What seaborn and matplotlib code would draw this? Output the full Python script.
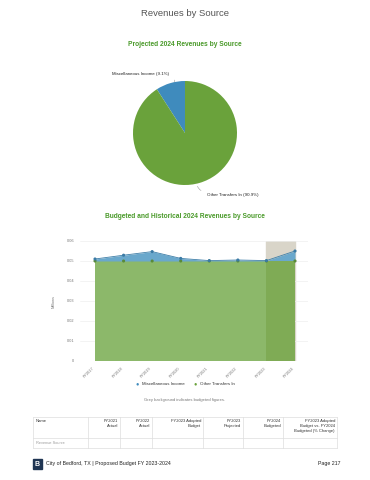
import numpy as np
import pandas as pd
import matplotlib
matplotlib.use("Agg")
import matplotlib.pyplot as plt
import seaborn as sns

sns.set_style("white")
plt.rcParams["font.family"] = ["Liberation Sans", "DejaVu Sans"]

# data
pie_labels = ["Miscellaneous Income", "Other Transfers In"]
pie_pct = [9.1, 90.9]

years = ["FY2017", "FY2018", "FY2019", "FY2020", "FY2021", "FY2022", "FY2023", "FY2024"]
misc_income = [0.0010, 0.0029, 0.0047, 0.0013, 0.0002, 0.0005, 0.0002, 0.0050]
other_transfers = [0.050, 0.050, 0.050, 0.050, 0.050, 0.050, 0.050, 0.050]
y_ticks = [0, 0.01, 0.02, 0.03, 0.04, 0.05, 0.06]
y_tick_labels = ["0", "0.01", "0.02", "0.03", "0.04", "0.05", "0.06"]

table_cols = ["Name", "FY2021\nActual", "FY2022\nActual", "FY2023 Adopted\nBudget",
              "FY2023\nProjected", "FY2024\nBudgeted",
              "FY2023 Adopted\nBudget vs. FY2024\nBudgeted (% Change)"]
table_row = ["Revenue Source", "", "", "", "", "", ""]

blue = "#3f8bbd"
green = "#6aa23b"
W, H = 370, 480

fig = plt.figure(figsize=(3.7, 4.8), dpi=100)


def fx(px):
    return px / W


def fy(py):
    return 1 - py / H


fig.text(0.5, fy(13), "Revenues by Source", ha="center", va="center",
         fontsize=6.8, color="#555555", fontweight="medium")
fig.text(0.5, fy(44), "Projected 2024 Revenues by Source", ha="center", va="center",
         fontsize=4.8, color="#4a9a2a", fontweight="bold")

# pie
r = 52
cx, cy = 185, 133
pax = fig.add_axes([fx(cx - r), fy(cy + r), fx(2 * r), 2 * r / H])
wedges, _ = pax.pie(pie_pct, colors=[blue, green], startangle=90, counterclock=True,
                    wedgeprops=dict(linewidth=0))
pax.set_xlim(-1, 1)
pax.set_ylim(-1, 1)
pax.set_aspect("equal")
pax.annotate(f"{pie_labels[0]} ({pie_pct[0]}%)", xy=(-0.2, 0.98), xytext=(-0.3, 1.13),
             fontsize=3.2, ha="right", va="center", color="#222222", annotation_clip=False,
             arrowprops=dict(arrowstyle="-", color="#999999", lw=0.4,
                             connectionstyle="angle3,angleA=0,angleB=70"))
pax.annotate(f"{pie_labels[1]} ({pie_pct[1]}%)", xy=(0.25, -0.97), xytext=(0.42, -1.19),
             fontsize=3.2, ha="left", va="center", color="#222222", annotation_clip=False,
             arrowprops=dict(arrowstyle="-", color="#999999", lw=0.4,
                             connectionstyle="angle3,angleA=0,angleB=70"))

fig.text(0.5, fy(216), "Budgeted and Historical 2024 Revenues by Source", ha="center",
         va="center", fontsize=4.8, color="#4a9a2a", fontweight="bold")

# stacked area
ax = fig.add_axes([fx(80), fy(361), fx(308 - 80), 120 / H])
x = np.arange(len(years))
ax.axvspan(x[-2], x[-1], color="#d9d5c9", zorder=0)
ax.stackplot(x, other_transfers, misc_income, colors=["#8cb86a", "#6aa8cc"], zorder=2,
             linewidth=0)
# budgeted region darker
ax.fill_between(x[-2:], 0, other_transfers[-2:], color="#7fab55", zorder=3, lw=0)
top = np.array(other_transfers) + np.array(misc_income)
ax.plot(x, top, color="#3f7fa8", lw=0.6, zorder=4)
df = pd.DataFrame({"x": np.concatenate([x, x]),
                   "y": np.concatenate([other_transfers, top]),
                   "s": ["Other Transfers In"] * len(x) + ["Miscellaneous Income"] * len(x)})
sns.scatterplot(data=df, x="x", y="y", hue="s", ax=ax, s=5, linewidth=0, legend=False,
                palette={"Other Transfers In": "#5a8a3a", "Miscellaneous Income": "#3a7aa5"},
                zorder=5)
ax.set_xlim(-0.525, len(x) - 1 + 0.455)
ax.set_ylim(0, 0.06)
ax.set_yticks(y_ticks)
ax.set_yticklabels(y_tick_labels)
ax.set_xticks(x)
ax.set_xticklabels(years, rotation=45, ha="right")
ax.tick_params(axis="both", labelsize=2.8, colors="#777777", length=0, pad=4)
ax.grid(axis="y", color="#eeeeee", lw=0.5, zorder=1)
ax.set_axisbelow(True)
ax.set_xlabel("")
ax.set_ylabel("Millions", fontsize=2.8, color="#777777", labelpad=8)
for s in ax.spines.values():
    s.set_visible(False)
ax.axhline(0, color="#dddddd", lw=0.5, zorder=1)

# legend
fig.text(fx(137), fy(384), "\u25CF", color=blue, fontsize=4, ha="center", va="center")
fig.text(fx(142), fy(384), "Miscellaneous Income", color="#333333", fontsize=3.2, va="center")
fig.text(fx(195), fy(384), "\u25CF", color=green, fontsize=4, ha="center", va="center")
fig.text(fx(200), fy(384), "Other Transfers In", color="#333333", fontsize=3.2, va="center")
fig.text(0.5, fy(400), "Grey background indicates budgeted figures.", color="#777777",
         fontsize=3, ha="center", va="center")

# table
bounds = [33, 88, 120, 152, 203, 243, 283, 337]
ty0, ty1, ty2 = 417, 438, 448
lc = "#dddddd"
for yy in (ty0, ty1, ty2):
    fig.add_artist(plt.Line2D([fx(33), fx(337)], [fy(yy), fy(yy)], color=lc, lw=0.5))
for b in bounds:
    fig.add_artist(plt.Line2D([fx(b), fx(b)], [fy(ty0), fy(ty2)], color=lc, lw=0.5))
for i, col in enumerate(table_cols):
    if i == 0:
        fig.text(fx(bounds[0] + 3), fy(ty0 + 2), col, fontsize=3, color="#333333",
                 ha="left", va="top", linespacing=1.4)
    else:
        fig.text(fx(bounds[i + 1] - 2), fy(ty0 + 2), col, fontsize=3, color="#333333",
                 ha="right", va="top", linespacing=1.4)
fig.text(fx(bounds[0] + 3), fy((ty1 + ty2) / 2), table_row[0], fontsize=2.8,
         color="#999999", ha="left", va="center")

# footer
fig.add_artist(plt.Rectangle((fx(33), fy(469)), fx(9), 10 / H, color="#1f3553"))
fig.text(fx(37.5), fy(464), "B", color="white", fontsize=5, fontweight="bold",
         ha="center", va="center")
fig.text(fx(46), fy(464), "City of Bedford, TX | Proposed Budget FY 2023-2024",
         fontsize=3.8, color="#222222", va="center")
fig.text(fx(340), fy(464), "Page 217", fontsize=3.8, color="#222222", va="center", ha="right")

fig.savefig("out.png", dpi=100)
